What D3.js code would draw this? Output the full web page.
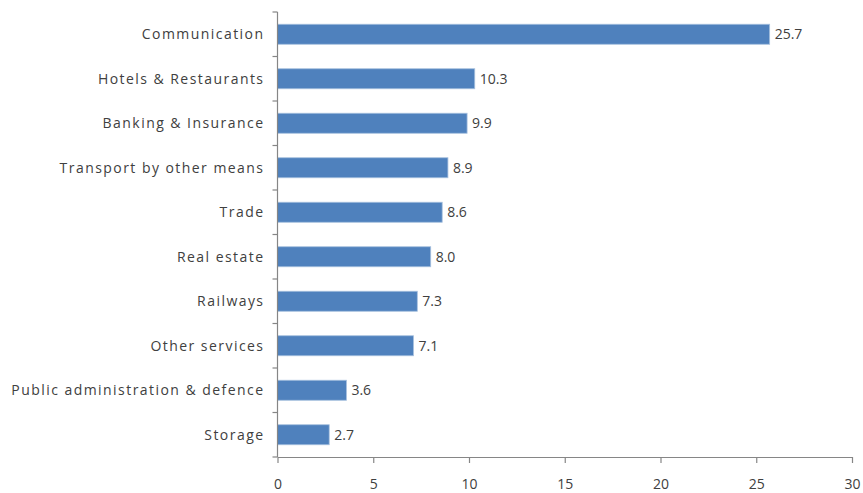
<!DOCTYPE html>
<html>
<head>
<meta charset="utf-8">
<script src="https://d3js.org/d3.v7.min.js"></script>
<style>
	body { margin: 0; background: #fff; }
	text { font-family: "Open Sans", "Noto Sans", sans-serif; fill: #404040; }
</style>
</head>
<body>
<div id="chart"></div>
<script>
var sectors = [
	'Communication',
	'Hotels & Restaurants',
	'Banking & Insurance',
	'Transport by other means',
	'Trade',
	'Real estate',
	'Railways',
	'Other services',
	'Public administration & defence',
	'Storage'
]

var growth = [25.7, 10.3, 9.9, 8.9, 8.6, 8.0, 7.3, 7.1, 3.6, 2.7]

var x_ticks = [0, 5, 10, 15, 20, 25, 30]

var width = 863,
	height = 493,
	margin = {top: 12, right: 11, bottom: 36, left: 277.5}

var svg = d3.select('#chart')
	.append('svg')
	.attr('width', width)
	.attr('height', height)

var x = d3.scaleLinear()
	.domain([0, 30])
	.range([margin.left, width - margin.right])

var y = d3.scaleBand()
	.domain(sectors)
	.range([margin.top, height - margin.bottom])
	.paddingInner(0.55)
	.paddingOuter(0.275)

var band_step = y.step()

// bars
svg.append('g')
	.selectAll('rect')
	.data(growth)
	.join('rect')
		.attr('x', x(0))
		.attr('y', (d, i) => y(sectors[i]))
		.attr('width', d => x(d) - x(0))
		.attr('height', y.bandwidth())
		.attr('fill', '#4f81bd')
		.attr('stroke', '#a7c0de')
		.attr('stroke-width', 0.8)

// value labels
svg.append('g')
	.selectAll('text')
	.data(growth)
	.join('text')
		.attr('x', d => x(d) + 5)
		.attr('y', (d, i) => y(sectors[i]) + y.bandwidth() / 2)
		.attr('dy', '0.36em')
		.attr('font-size', 14)
		.text(d => d3.format('.1f')(d))

// y axis with ticks between categories
var axis_color = '#868686'
var y_axis = svg.append('g')

y_axis.append('line')
	.attr('x1', x(0)).attr('x2', x(0))
	.attr('y1', margin.top).attr('y2', height - margin.bottom)
	.attr('stroke', axis_color)
	.attr('stroke-width', 1.2)

y_axis.selectAll('line.tick')
	.data(d3.range(sectors.length + 1))
	.join('line')
		.attr('class', 'tick')
		.attr('x1', x(0) - 5).attr('x2', x(0))
		.attr('y1', i => margin.top + i * band_step)
		.attr('y2', i => margin.top + i * band_step)
		.attr('stroke', axis_color)
		.attr('stroke-width', 1.2)

// category labels are spaced out a bit, like the original
y_axis.selectAll('text')
	.data(sectors)
	.join('text')
		.attr('x', x(0) - 13)
		.attr('y', d => y(d) + y.bandwidth() / 2)
		.attr('dy', '0.36em')
		.attr('text-anchor', 'end')
		.attr('font-size', 14)
		.attr('letter-spacing', 1.45)
		.text(d => d)

// x axis
var x_axis = svg.append('g')
	.attr('transform', 'translate(0,' + (height - margin.bottom) + ')')
	.call(d3.axisBottom(x)
		.tickValues(x_ticks)
		.tickSize(6)
		.tickPadding(16)
		.tickSizeOuter(0))

x_axis.select('.domain')
	.attr('stroke', axis_color)
	.attr('stroke-width', 1.2)

x_axis.selectAll('.tick line')
	.attr('stroke', axis_color)
	.attr('stroke-width', 1.2)

x_axis.selectAll('.tick text')
	.attr('font-size', 14)
	.attr('fill', '#404040')
	.style('font-family', '"Open Sans", "Noto Sans", sans-serif')
</script>
</body>
</html>
